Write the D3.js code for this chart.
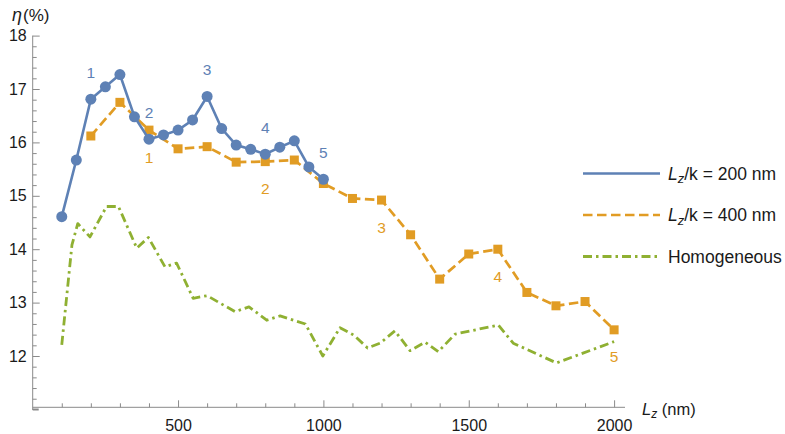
<!DOCTYPE html>
<html>
<head>
<meta charset="utf-8">
<script src="https://cdn.jsdelivr.net/npm/d3@7"></script>
<style>
	body { margin: 0; background: #fff; }
	svg { display: block; font-family: 'Liberation Sans', Arial, sans-serif; }
</style>
</head>
<body>
<svg id="chart" width="785" height="434"></svg>
<script>
// series: L_z/k = 200 nm
const blueX = [100, 150, 200, 250, 300, 350, 400, 450, 500, 550, 600, 650, 700, 750, 800, 850, 900, 950, 1000];
const blueY = [14.61, 15.67, 16.81, 17.04, 17.27, 16.48, 16.06, 16.14, 16.23, 16.42, 16.86, 16.26, 15.95, 15.87, 15.78, 15.91, 16.03, 15.54, 15.31];
const blueLabelX = [200, 400, 600, 800, 1000];

// series: L_z/k = 400 nm
const orangeX = [200, 300, 400, 500, 600, 700, 800, 900, 1000, 1100, 1200, 1300, 1400, 1500, 1600, 1700, 1800, 1900, 2000];
const orangeY = [16.12, 16.75, 16.23, 15.88, 15.92, 15.63, 15.64, 15.67, 15.23, 14.95, 14.92, 14.27, 13.44, 13.91, 14.00, 13.19, 12.94, 13.02, 12.49];
const orangeLabelX = [400, 800, 1200, 1600, 2000];

// series: homogeneous
const greenX = [100, 135, 155, 197, 254, 295, 358, 398, 455, 495, 552, 600, 696, 744, 805, 851, 938, 998, 1057, 1105, 1152, 1195, 1246, 1298, 1350, 1395, 1453, 1602, 1653, 1802, 2000];
const greenY = [12.21, 14.08, 14.48, 14.23, 14.80, 14.80, 14.02, 14.22, 13.67, 13.74, 13.08, 13.13, 12.83, 12.92, 12.67, 12.75, 12.60, 12.00, 12.53, 12.39, 12.15, 12.24, 12.47, 12.10, 12.26, 12.08, 12.41, 12.58, 12.24, 11.87, 12.27];

const xMajor = [500, 1000, 1500, 2000];
const yMajor = [12, 13, 14, 15, 16, 17, 18];
const legendNames = ['200 nm', '400 nm', 'Homogeneous'];

const colors = ['#5e81b5', '#e19c24', '#8fb032'];
const dashes = [null, '9.5,4.5', '9,4,2.5,4'];
const textColor = '#1a1a1a';
const axisColor = '#8a8a8a';

const svg = d3.select('#chart');

const x = d3.scaleLinear().domain([0, 2000]).range([32.7, 614.1]);
const y = d3.scaleLinear().domain([12, 18]).range([356, 35.6]);
const axisY = 407.3;

const xMinor = d3.range(100, 2001, 100).filter(v => v % 500 !== 0);
const yMinor = d3.range(11.2, 18.0, 0.2).filter(v => Math.abs(v - Math.round(v)) > 0.01);

// x axis
const gx = svg.append('g').attr('transform', `translate(0,${axisY})`);
gx.call(d3.axisBottom(x).tickValues(xMajor).tickSize(-7).tickPadding(12.3).tickSizeOuter(0).tickFormat(d3.format('d')));
gx.select('.domain').attr('d', `M${x(0)},0H625`);
gx.append('g')
	.call(d3.axisBottom(x).tickValues(xMinor).tickSize(-4).tickFormat('').tickSizeOuter(0))
	.call(g => g.select('.domain').remove());

// y axis
const gy = svg.append('g').attr('transform', `translate(${x(0)},0)`);
gy.call(d3.axisLeft(y).tickValues(yMajor).tickSize(-7).tickPadding(6).tickSizeOuter(0).tickFormat(d3.format('d')));
gy.select('.domain').attr('d', `M0,${y(18)}V410`);
gy.append('g')
	.call(d3.axisLeft(y).tickValues(yMinor).tickSize(-4).tickFormat('').tickSizeOuter(0))
	.call(g => g.select('.domain').remove());

svg.selectAll('.domain, .tick line').attr('stroke', axisColor).attr('stroke-width', 1);
svg.selectAll('.tick text').attr('fill', textColor).attr('font-size', 16)
	.attr('font-family', "'Liberation Sans', Arial, sans-serif");

// little corner piece
svg.append('line')
	.attr('x1', x(0)).attr('x2', x(0) + 6)
	.attr('y1', 409.5).attr('y2', 409.5)
	.attr('stroke', axisColor).attr('stroke-width', 2);

// axis labels
const xl = svg.append('text').attr('x', 642).attr('y', 415).attr('font-size', 16.5).attr('fill', textColor);
xl.append('tspan').attr('font-style', 'italic').text('L');
xl.append('tspan').attr('font-style', 'italic').attr('font-size', 12).attr('dy', 3).text('z');
xl.append('tspan').attr('dy', -3).text(' (nm)');

const yl = svg.append('text').attr('x', 12).attr('y', 20.5).attr('font-size', 17).attr('fill', textColor);
yl.append('tspan').attr('font-style', 'italic').attr('font-size', 18).text('η');
yl.append('tspan').attr('x', 23).text('(%)');

const line = d3.line().x(d => x(d[0])).y(d => y(d[1]));

// green
svg.append('path')
	.datum(d3.zip(greenX, greenY))
	.attr('fill', 'none')
	.attr('stroke', colors[2])
	.attr('stroke-width', 2.8)
	.attr('stroke-linejoin', 'round')
	.attr('stroke-dasharray', dashes[2])
	.attr('d', line);

// orange
svg.append('path')
	.datum(d3.zip(orangeX, orangeY))
	.attr('fill', 'none')
	.attr('stroke', colors[1])
	.attr('stroke-width', 2.7)
	.attr('stroke-dasharray', dashes[1])
	.attr('d', line);

svg.append('g').selectAll('rect')
	.data(d3.zip(orangeX, orangeY))
	.join('rect')
	.attr('x', d => x(d[0]) - 4.5)
	.attr('y', d => y(d[1]) - 4.5)
	.attr('width', 9)
	.attr('height', 9)
	.attr('fill', colors[1]);

// blue
svg.append('path')
	.datum(d3.zip(blueX, blueY))
	.attr('fill', 'none')
	.attr('stroke', colors[0])
	.attr('stroke-width', 2.6)
	.attr('d', line);

svg.append('g').selectAll('circle')
	.data(d3.zip(blueX, blueY))
	.join('circle')
	.attr('cx', d => x(d[0]))
	.attr('cy', d => y(d[1]))
	.attr('r', 5.5)
	.attr('fill', colors[0]);

// numbered labels
svg.append('g').selectAll('text')
	.data(blueLabelX)
	.join('text')
	.attr('x', d => x(d))
	.attr('y', d => y(blueY[blueX.indexOf(d)]) - 27)
	.attr('dy', '0.36em')
	.attr('text-anchor', 'middle')
	.attr('font-size', 15.5)
	.attr('fill', colors[0])
	.text((d, i) => i + 1);

svg.append('g').selectAll('text')
	.data(orangeLabelX)
	.join('text')
	.attr('x', d => x(d))
	.attr('y', d => y(orangeY[orangeX.indexOf(d)]) + 27)
	.attr('dy', '0.36em')
	.attr('text-anchor', 'middle')
	.attr('font-size', 15.5)
	.attr('fill', colors[1])
	.text((d, i) => i + 1);

// legend
const legend = svg.append('g').selectAll('g')
	.data(legendNames)
	.join('g')
	.attr('transform', (d, i) => `translate(583,${173.5 + i * 41.5})`);

legend.append('line')
	.attr('x1', 0).attr('x2', 77)
	.attr('stroke', (d, i) => colors[i])
	.attr('stroke-width', (d, i) => i === 2 ? 2.8 : 2.6)
	.attr('stroke-dasharray', (d, i) => dashes[i]);

legend.each(function (d, i) {
	const t = d3.select(this).append('text')
		.attr('x', 85).attr('y', 6)
		.attr('font-size', 17.5)
		.attr('fill', textColor);
	if (i < 2) {
		t.append('tspan').attr('font-style', 'italic').text('L');
		t.append('tspan').attr('font-style', 'italic').attr('font-size', 13).attr('dy', 3.5).text('z');
		t.append('tspan').attr('dy', -3.5).text('/k = ' + d);
	} else {
		t.text(d);
	}
});
</script>
</body>
</html>
